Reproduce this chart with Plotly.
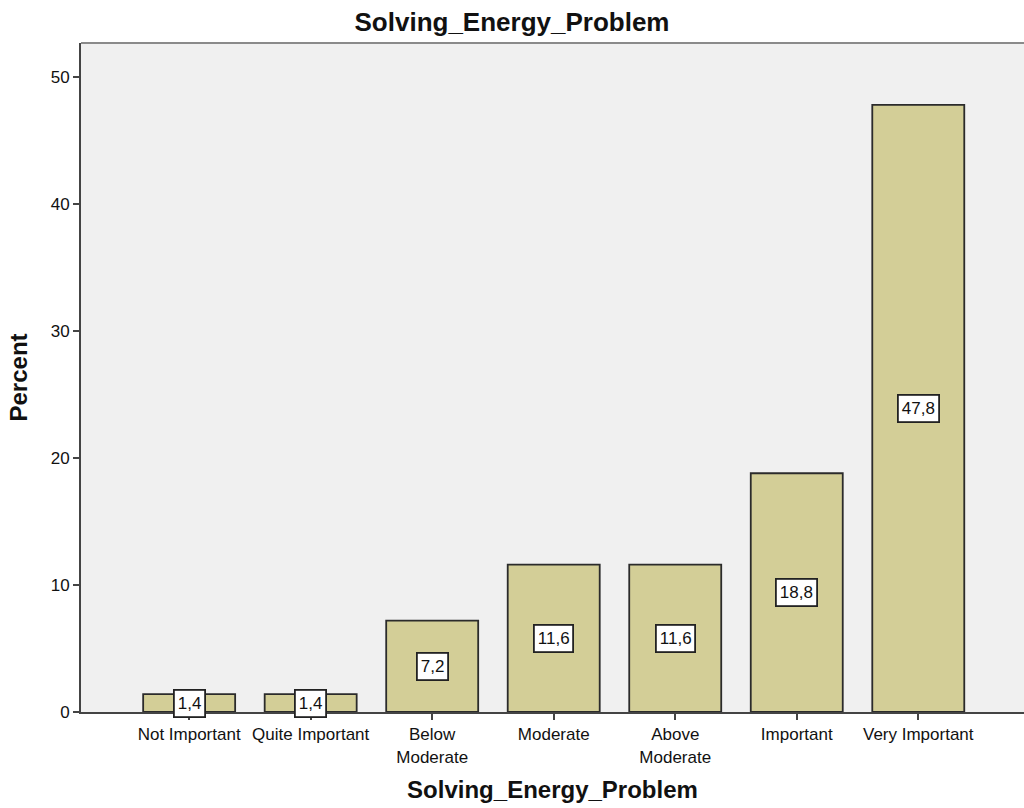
import plotly.graph_objects as go

categories = ["Not Important", "Quite Important", "Below<br>Moderate", "Moderate",
              "Above<br>Moderate", "Important", "Very Important"]
percent = [1.4, 1.4, 7.2, 11.6, 11.6, 18.8, 47.8]
y_ticks = [0, 10, 20, 30, 40, 50]

positions = list(range(len(categories)))
font_family = "Liberation Sans, Arial, sans-serif"

fig = go.Figure()
fig.add_trace(go.Bar(
    x=positions,
    y=percent,
    width=0.757,
    marker=dict(color="#D3CE97", line=dict(color="#2b2b2b", width=1.8)),
    hoverinfo="skip",
))

# value labels in white boxes at the middle of each bar
for xi, v in zip(positions, percent):
    fig.add_annotation(
        x=xi, y=v / 2, text=f"{v:.1f}".replace(".", ","),
        showarrow=False, bgcolor="white", bordercolor="#222", borderwidth=1.8,
        borderpad=3, font=dict(family=font_family, size=17, color="#111"),
    )

# top border of the plot area
fig.add_shape(type="line", xref="paper", yref="paper", x0=0, x1=1, y0=1, y1=1,
              line=dict(color="#8a8a8a", width=2))

fig.update_layout(
    width=1024, height=808,
    margin=dict(l=81, r=0, t=43, b=96),
    paper_bgcolor="white",
    plot_bgcolor="#F0F0F0",
    showlegend=False,
    font=dict(family=font_family, color="#111"),
    title=dict(text="<b>Solving_Energy_Problem</b>", x=0.5, xanchor="center",
               y=1 - 22 / 808, yanchor="middle",
               font=dict(family=font_family, size=26, color="#111")),
    xaxis=dict(
        range=[-0.89, 6.87],
        tickmode="array", tickvals=positions, ticktext=categories,
        ticks="outside", ticklen=6, tickwidth=2, tickcolor="#444",
        showline=True, linecolor="#444", linewidth=2,
        showgrid=False, zeroline=False,
        tickfont=dict(family=font_family, size=17, color="#111"),
        title=dict(text="<b>Solving_Energy_Problem</b>", standoff=16,
                   font=dict(family=font_family, size=24, color="#111")),
    ),
    yaxis=dict(
        range=[0, 52.68],
        tickmode="array", tickvals=y_ticks,
        ticks="outside", ticklen=6, tickwidth=2, tickcolor="#444",
        showline=True, linecolor="#444", linewidth=2,
        showgrid=False, zeroline=False,
        tickfont=dict(family=font_family, size=17, color="#111"),
        title=dict(text="<b>Percent</b>", standoff=16,
                   font=dict(family=font_family, size=24, color="#111")),
    ),
)

fig.write_html("out.html")
